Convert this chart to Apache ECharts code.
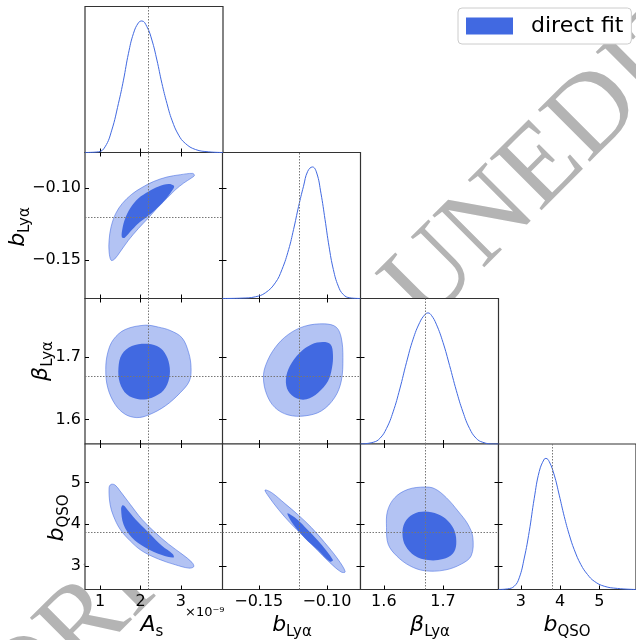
<!DOCTYPE html>
<html>
<head>
<meta charset="utf-8">
<script src="https://cdn.jsdelivr.net/npm/echarts@6/dist/echarts.min.js"></script>
<style>
  html, body { margin: 0; padding: 0; background: #fff; }
  #chart { width: 636px; height: 640px; }
</style>
</head>
<body>
<div id="chart"></div>
<script>
const FONT = "DejaVu Sans";
const BLUE = "#4169e1";

// tick values per parameter
const asTicks = [1, 2, 3];
const bLyaTicks = [-0.15, -0.1];
const betaTicks = [1.6, 1.7];
const bQsoTicks = [3, 4, 5];

// fiducial values (dotted lines): As, bLya, betaLya, bQSO
const truthValues = [2.2, -0.117, 1.67, 3.8];

// 1D marginals: [value, density / peak]
const asPdf = [[0.628,0],[0.959,0.005],[1.124,0.043],[1.29,0.17],[1.455,0.373],[1.579,0.55],[1.703,0.754],[1.827,0.906],[1.951,0.987],[2.034,1.0],[2.158,0.957],[2.282,0.855],[2.406,0.703],[2.53,0.525],[2.654,0.373],[2.778,0.246],[2.944,0.132],[3.109,0.069],[3.357,0.023],[3.688,0.005],[4.04,0]];
const bLyaPdf = [[-0.1766,0],[-0.1622,0.003],[-0.1525,0.013],[-0.1452,0.043],[-0.1379,0.119],[-0.133,0.22],[-0.1281,0.372],[-0.1245,0.524],[-0.1208,0.7],[-0.1172,0.853],[-0.1141,0.967],[-0.1106,1.0],[-0.1075,0.954],[-0.1044,0.8],[-0.1014,0.6],[-0.0985,0.397],[-0.0953,0.22],[-0.0917,0.094],[-0.088,0.03],[-0.0832,0.005],[-0.0756,0]];
const betaPdf = [[1.5605,0],[1.582,0.013],[1.5933,0.043],[1.6045,0.119],[1.6157,0.245],[1.627,0.42],[1.6382,0.62],[1.6495,0.8],[1.6607,0.927],[1.6691,0.985],[1.6748,1.0],[1.6804,0.982],[1.6888,0.914],[1.7001,0.775],[1.7113,0.598],[1.7225,0.41],[1.7338,0.245],[1.745,0.119],[1.7563,0.043],[1.7675,0.013],[1.7844,0],[1.794,0]];
const bQsoPdf = [[2.43,0],[2.662,0.005],[2.831,0.025],[2.958,0.089],[3.086,0.24],[3.213,0.443],[3.34,0.696],[3.467,0.9],[3.595,0.995],[3.637,1.0],[3.722,0.975],[3.849,0.873],[3.976,0.72],[4.104,0.557],[4.231,0.418],[4.358,0.304],[4.527,0.19],[4.697,0.114],[4.867,0.063],[5.121,0.025],[5.461,0.008],[5.93,0]];

// 2D contours (95% outer, 68% inner): [x, y]
const asBLya95 = [[1.273,-0.1501],[1.224,-0.1443],[1.224,-0.1362],[1.273,-0.1269],[1.389,-0.1176],[1.554,-0.1106],[1.786,-0.1043],[2.034,-0.0997],[2.324,-0.0955],[2.654,-0.0924],[2.985,-0.0908],[3.291,-0.0899],[3.333,-0.0913],[3.258,-0.0931],[3.068,-0.0966],[2.861,-0.1013],[2.654,-0.1071],[2.406,-0.1141],[2.2,-0.1206],[1.951,-0.128],[1.703,-0.1362],[1.496,-0.1443],[1.356,-0.1494]];
const asBLya68 = [[2.82,-0.0983],[2.696,-0.0973],[2.448,-0.099],[2.2,-0.1024],[1.951,-0.1071],[1.745,-0.1141],[1.621,-0.1211],[1.554,-0.128],[1.538,-0.1339],[1.604,-0.1346],[1.745,-0.1304],[1.951,-0.1245],[2.158,-0.1199],[2.365,-0.1152],[2.572,-0.1094],[2.737,-0.1036],[2.828,-0.0997]];

const asBeta95 = [[2.117,1.7512],[1.621,1.7442],[1.331,1.7282],[1.19,1.7069],[1.141,1.6802],[1.19,1.6509],[1.372,1.6242],[1.621,1.6082],[1.91,1.6029],[2.2,1.6071],[2.613,1.6216],[2.985,1.6429],[3.209,1.6616],[3.25,1.6829],[3.192,1.7069],[3.027,1.7309],[2.737,1.7426],[2.448,1.748]];
const asBeta68 = [[2.117,1.7213],[1.786,1.7176],[1.538,1.7042],[1.455,1.6829],[1.488,1.6589],[1.662,1.6402],[1.951,1.6322],[2.282,1.6349],[2.572,1.6466],[2.712,1.6669],[2.712,1.6882],[2.597,1.7069],[2.406,1.7176]];

const bLyaBeta95 = [[-0.1017,1.7533],[-0.1162,1.7496],[-0.1284,1.7362],[-0.1381,1.7149],[-0.1447,1.6882],[-0.1466,1.6669],[-0.1442,1.6402],[-0.1381,1.6189],[-0.1284,1.6071],[-0.1162,1.6056],[-0.1041,1.6136],[-0.0944,1.6349],[-0.0895,1.6616],[-0.0883,1.6989],[-0.0895,1.7309],[-0.0932,1.748]];
const bLyaBeta68 = [[-0.1029,1.724],[-0.1114,1.7202],[-0.1199,1.7069],[-0.1272,1.6856],[-0.1301,1.6642],[-0.1284,1.6456],[-0.1223,1.6338],[-0.115,1.6322],[-0.1065,1.6429],[-0.0992,1.6616],[-0.0963,1.6829],[-0.0956,1.7042],[-0.0973,1.7202]];

const asBQso95 = [[1.273,4.959],[1.224,4.879],[1.248,4.48],[1.331,4.2],[1.496,3.88],[1.745,3.6],[2.034,3.36],[2.448,3.161],[2.861,3.025],[3.192,2.945],[3.316,2.977],[3.275,3.081],[3.027,3.281],[2.696,3.52],[2.365,3.8],[2.034,4.12],[1.745,4.48],[1.496,4.799],[1.372,4.943]];
const asBQso68 = [[1.554,4.456],[1.521,4.36],[1.579,4.0],[1.786,3.68],[2.117,3.441],[2.53,3.257],[2.82,3.201],[2.795,3.281],[2.53,3.48],[2.241,3.76],[1.951,4.04],[1.703,4.32],[1.604,4.44]];

const bLyaBQso95 = [[-0.1454,4.823],[-0.1405,4.759],[-0.1308,4.496],[-0.1211,4.224],[-0.1114,3.92],[-0.1017,3.56],[-0.092,3.161],[-0.0866,2.857],[-0.0895,2.849],[-0.098,3.081],[-0.1077,3.4],[-0.1175,3.72],[-0.1272,4.04],[-0.1357,4.36],[-0.143,4.679]];
const bLyaBQso68 = [[-0.1289,4.264],[-0.1235,4.16],[-0.1162,3.936],[-0.1065,3.6],[-0.0956,3.137],[-0.098,3.105],[-0.1065,3.376],[-0.1162,3.664],[-0.1248,4.0],[-0.1284,4.2]];

const betaBQso95 = [[1.6691,4.895],[1.641,4.839],[1.6185,4.64],[1.6062,4.32],[1.6045,3.92],[1.6073,3.52],[1.6214,3.241],[1.6438,3.001],[1.6691,2.881],[1.7029,2.897],[1.731,3.041],[1.7478,3.241],[1.7506,3.68],[1.7422,4.0],[1.7253,4.32],[1.7057,4.64],[1.686,4.855]];
const betaBQso68 = [[1.6691,4.304],[1.6495,4.24],[1.6354,4.04],[1.6315,3.76],[1.6365,3.48],[1.6523,3.241],[1.6748,3.137],[1.7001,3.161],[1.7169,3.297],[1.7225,3.52],[1.7197,3.84],[1.7085,4.08],[1.6916,4.24]];

const minus = (s) => s.replace("-", "\u2212");
const params = [
  { range: [0.628, 4.04], ticks: asTicks, fmt: (v) => String(v) },
  { range: [-0.1766, -0.0754], ticks: bLyaTicks, fmt: (v) => minus(v.toFixed(2)) },
  { range: [1.5605, 1.794], ticks: betaTicks, fmt: (v) => v.toFixed(1) },
  { range: [2.43, 5.93], ticks: bQsoTicks, fmt: (v) => String(v) },
];
const pdfs = [asPdf, bLyaPdf, betaPdf, bQsoPdf];
const contours = {
  "1-0": [asBLya95, asBLya68],
  "2-0": [asBeta95, asBeta68],
  "2-1": [bLyaBeta95, bLyaBeta68],
  "3-0": [asBQso95, asBQso68],
  "3-1": [bLyaBQso95, bLyaBQso68],
  "3-2": [betaBQso95, betaBQso68],
};

const colLeft = [85, 222.5, 360.5, 498.5];
const rowTop = [6.5, 152.5, 298.5, 444];
const cellW = 138, cellH = 146;

const grid = [], xAxis = [], yAxis = [], series = [];

function paramAxis(p, gridIndex, position, labels) {
  return {
    type: "value", gridIndex, position,
    min: p.range[0], max: p.range[1],
    axisLine: { show: false },
    splitLine: { show: false },
    axisTick: { show: true, inside: true, length: 4, customValues: p.ticks, lineStyle: { color: "#000", width: 1 } },
    axisLabel: {
      show: labels, customValues: p.ticks, formatter: p.fmt,
      fontFamily: FONT, fontSize: 16, color: "#000", margin: 4,
    },
  };
}

function polygon(name, pts, xi, yi, fill, stroke) {
  return {
    type: "custom", name, xAxisIndex: xi, yAxisIndex: yi,
    clip: true, silent: true,
    itemStyle: { color: fill },
    encode: { x: 0, y: 1 },
    data: pts,
    renderItem(params, api) {
      if (params.context.rendered) return;
      params.context.rendered = true;
      const points = pts.map((p) => api.coord(p));
      return {
        type: "polygon",
        shape: { points, smooth: 0.35 },
        style: { fill, stroke: stroke || null, lineWidth: stroke ? 1 : 0 },
      };
    },
  };
}

function truthLines(list) {
  return {
    silent: true, symbol: "none", animation: false,
    label: { show: false },
    lineStyle: { type: [1.5, 1.5], color: "#777", width: 1 },
    data: list,
  };
}

for (let i = 0; i < 4; i++) {
  for (let j = 0; j <= i; j++) {
    const g = grid.length;
    grid.push({
      left: colLeft[j], top: rowTop[i], width: cellW, height: cellH - (i >= 2 ? 0.5 : 0),
      show: true, backgroundColor: "#fff", borderColor: "#333", borderWidth: 1.2,
    });
    const xi = xAxis.length;
    xAxis.push(paramAxis(params[j], g, "bottom", i === 3));
    if (i === j) {
      const yi = yAxis.length;
      yAxis.push({ type: "value", gridIndex: g, min: 0, max: 1.11, show: false });
      if (i > 0) yAxis.push(paramAxis(params[i], g, "left", false));
      series.push({
        type: "line", xAxisIndex: xi, yAxisIndex: yi,
        data: pdfs[i], smooth: 0.45,
        showSymbol: false, silent: true,
        lineStyle: { color: BLUE, width: 1 },
        markLine: truthLines([{ xAxis: truthValues[i] }]),
      });
    } else {
      xAxis.push(paramAxis(params[j], g, "top", false));
      const yi = yAxis.length;
      yAxis.push(paramAxis(params[i], g, "left", j === 0));
      yAxis.push(paramAxis(params[i], g, "right", false));
      const [outer, inner] = contours[i + "-" + j];
      series.push(polygon("95", outer, xi, yi, "rgba(65,105,225,0.4)", "rgba(65,105,225,0.55)"));
      const s = polygon("direct fit", inner, xi, yi, BLUE, null);
      s.markLine = truthLines([{ xAxis: truthValues[j] }, { yAxis: truthValues[i] }]);
      series.push(s);
    }
  }
}

const rich = {
  i: { fontFamily: FONT, fontStyle: "italic", fontSize: 22, lineHeight: 30, color: "#000" },
  s: { fontFamily: FONT, fontSize: 15, lineHeight: 15, verticalAlign: "bottom", color: "#000" },
};
function title(text, x, y, rotated) {
  return {
    type: "text", x, y, rotation: rotated ? Math.PI / 2 : 0,
    style: { text, rich, align: "center", verticalAlign: "middle" },
  };
}

const chart = echarts.init(document.getElementById("chart"));
chart.setOption({
  animation: false,
  grid, xAxis, yAxis, series,
  legend: {
    left: 458, top: 8,
    padding: [7, 8, 7, 8],
    itemWidth: 47, itemHeight: 17,
    borderColor: "#cccccc", borderWidth: 1, borderRadius: 4,
    backgroundColor: "#fff",
    selectedMode: false,
    textStyle: { fontFamily: FONT, fontSize: 22, color: "#000", padding: [0, 0, 0, 13] },
    data: [{ name: "direct fit", icon: "rect", itemStyle: { color: BLUE } }],
  },
  graphic: [
    {
      // watermark, mostly hidden behind the panels
      type: "text", x: 1.5, y: 708.5, rotation: Math.PI / 4, z: -10,
      style: { text: "ORIGINAL UNEDITED MANUSCRIPT", fontFamily: "Liberation Serif", fontSize: 112, fill: "#b4b4b4", align: "left", verticalAlign: "middle" },
    },
    title("{i|A}{s|s}", 152, 625, false),
    title("{i|b}{s|Lyα}", 292, 625, false),
    title("{i|β}{s|Lyα}", 430, 625, false),
    title("{i|b}{s|QSO}", 567, 625, false),
    title("{i|b}{s|Lyα}", 18, 227, true),
    title("{i|β}{s|Lyα}", 41, 361, true),
    title("{i|b}{s|QSO}", 57, 518, true),
    {
      type: "text", x: 185, y: 613,
      style: { text: "×10⁻⁹", fontFamily: FONT, fontSize: 13, fill: "#000", align: "left", verticalAlign: "middle" },
    },
  ],
});
window.addEventListener("resize", () => chart.resize());
</script>
</body>
</html>
